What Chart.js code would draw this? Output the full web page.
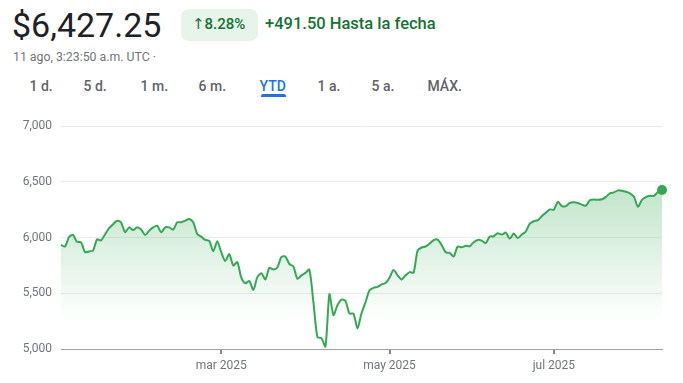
<!DOCTYPE html>
<html>
<head>
<meta charset="utf-8">
<script src="https://cdn.jsdelivr.net/npm/chart.js@4.4.1/dist/chart.umd.min.js"></script>
<style>
  html, body { margin:0; padding:0; background:#fff; }
  body { width:683px; height:383px; position:relative; overflow:hidden; font-family: Roboto, "DejaVu Sans", sans-serif; }
  .t { position:absolute; white-space:nowrap; }
  #price { left:12px; top:8px; font-size:34px; line-height:34px; color:#202124; }
  #pill { position:absolute; left:181px; top:9px; width:77px; height:32px; background:#e6f4ea; border-radius:8px; }
  #pct { left:192px; top:17px; font-size:15px; line-height:15px; color:#137333; font-weight:500; }
  #chg { left:265px; top:16px; font-size:16.5px; line-height:16px; color:#137333; font-weight:500; }
  #date { left:13px; top:51px; font-size:12.3px; line-height:12px; color:#70757a; }
  .tab { top:79px; font-size:14px; line-height:14px; color:#5f6368; font-weight:500; }
  .tab.on { color:#1a73e8; }
  #uline { position:absolute; left:261px; top:94px; width:25px; height:3px; background:#1a73e8; border-radius:2px 2px 0 0; }
  #wrap { position:absolute; left:0; top:110px; width:683px; height:273px; }
</style>
</head>
<body>
<div id="price" class="t">$6,427.25</div>
<div id="pill"></div>
<div id="pct" class="t">↑8.28%</div>
<div id="chg" class="t">+491.50 Hasta la fecha</div>
<div id="date" class="t">11 ago, 3:23:50 a.m. UTC ·</div>
<div id="tabs"></div>
<div id="uline"></div>
<div id="wrap"><canvas id="c" width="683" height="273"></canvas></div>
<script>
// ---- data (trading-day index 0 = previous close, last = 11 ago) ----
const values = [
  5935, 5920, 6005, 6025, 5962, 5958, 5870, 5876, 5884, 5985,
  5975, 6030, 6085, 6120, 6152, 6135, 6048, 6092, 6068, 6092,
  6072, 6023, 6062, 6092, 6107, 6048, 6092, 6092, 6071, 6137,
  6137, 6152, 6167, 6137, 6033, 6009, 5979, 5970, 5878, 5967,
  5869, 5790, 5852, 5750, 5780, 5640, 5590, 5610, 5530, 5645,
  5680, 5625, 5728, 5714, 5732, 5826, 5830, 5763, 5741, 5631,
  5661, 5683, 5712, 5420, 5107, 5098, 5022, 5491, 5304, 5393,
  5444, 5431, 5319, 5317, 5185, 5321, 5420, 5527, 5549, 5558,
  5580, 5592, 5640, 5710, 5661, 5625, 5661, 5690, 5685, 5884,
  5911, 5920, 5946, 5978, 5982, 5933, 5869, 5862, 5830, 5920,
  5913, 5926, 5922, 5958, 5979, 5973, 5951, 6009, 6012, 6039,
  6027, 6045, 5991, 6036, 5996, 6027, 6054, 6125, 6147, 6156,
  6192, 6223, 6253, 6250, 6321, 6283, 6283, 6312, 6317, 6310,
  6296, 6287, 6335, 6342, 6339, 6344, 6366, 6397, 6406, 6424,
  6420, 6411, 6397, 6366, 6277, 6339, 6363, 6375, 6375, 6411,
  6427.25
];
const monthTickIdx = [40, 82, 123];
const monthTickLabels = ['mar 2025', 'may 2025', 'jul 2025'];
const yTickValues = [5000, 5500, 6000, 6500, 7000];
const tabLabels = ['1 d.', '5 d.', '1 m.', '6 m.', 'YTD', '1 a.', '5 a.', 'MÁX.'];
const activeTab = 'YTD';

// ---- tabs ----
const tabLeft = [30, 84, 141, 199, 260, 318, 372, 428];
const tabsEl = document.getElementById('tabs');
tabLabels.forEach((lab, i) => {
  const d = document.createElement('div');
  d.className = 't tab' + (lab === activeTab ? ' on' : '');
  d.style.left = (tabLeft[i] - 0.5) + 'px';
  d.textContent = lab;
  tabsEl.appendChild(d);
});

// ---- chart ----
Chart.defaults.font.family = 'Roboto';
const green = '#34a853';
const pts = values.map((v, i) => ({ x: i, y: v }));
new Chart(document.getElementById('c'), {
  type: 'line',
  data: {
    datasets: [{
      data: pts,
      clip: false,
      borderColor: green,
      borderWidth: 2,
      tension: 0.25,
      pointRadius: ctx => ctx.dataIndex === values.length - 1 ? 5 : 0,
      pointBackgroundColor: green,
      pointBorderWidth: 0,
      fill: 'start',
      backgroundColor: ctx => {
        const ch = ctx.chart;
        if (!ch.chartArea) return 'rgba(52,168,83,0.15)';
        const y = ch.scales.y;
        const g = ch.ctx.createLinearGradient(0, y.getPixelForValue(6450), 0, y.getPixelForValue(5250));
        g.addColorStop(0, 'rgba(52,168,83,0.30)');
        g.addColorStop(1, 'rgba(52,168,83,0)');
        return g;
      }
    }]
  },
  options: {
    responsive: false,
    animation: false,
    devicePixelRatio: 1,
    layout: { padding: { top: 15, right: 21, left: 0, bottom: 0 } },
    plugins: { legend: { display: false }, tooltip: { enabled: false } },
    scales: {
      x: {
        type: 'linear',
        min: 0,
        max: values.length - 1,
        afterBuildTicks: s => { s.ticks = monthTickIdx.map(v => ({ value: v })); },
        afterFit: s => { s.height = 34; },
        ticks: {
          autoSkip: false, maxRotation: 0, padding: 5,
          color: '#70757a', font: { size: 12 },
          callback: v => monthTickLabels[monthTickIdx.indexOf(v)]
        },
        grid: { drawOnChartArea: false, drawTicks: true, tickLength: 5, color: '#80868b', lineWidth: 2 },
        border: { display: true, color: '#9aa0a6', width: 1 }
      },
      y: {
        min: 5000, max: 7000,
        afterBuildTicks: s => { s.ticks = yTickValues.map(v => ({ value: v })); },
        afterFit: s => { s.width = 61; },
        ticks: {
          padding: 9, color: '#70757a', font: { size: 12 },
          callback: v => v.toLocaleString('en-US')
        },
        grid: { color: '#ebebeb', drawTicks: false, lineWidth: 1 },
        border: { display: false }
      }
    }
  }
});
</script>
</body>
</html>
